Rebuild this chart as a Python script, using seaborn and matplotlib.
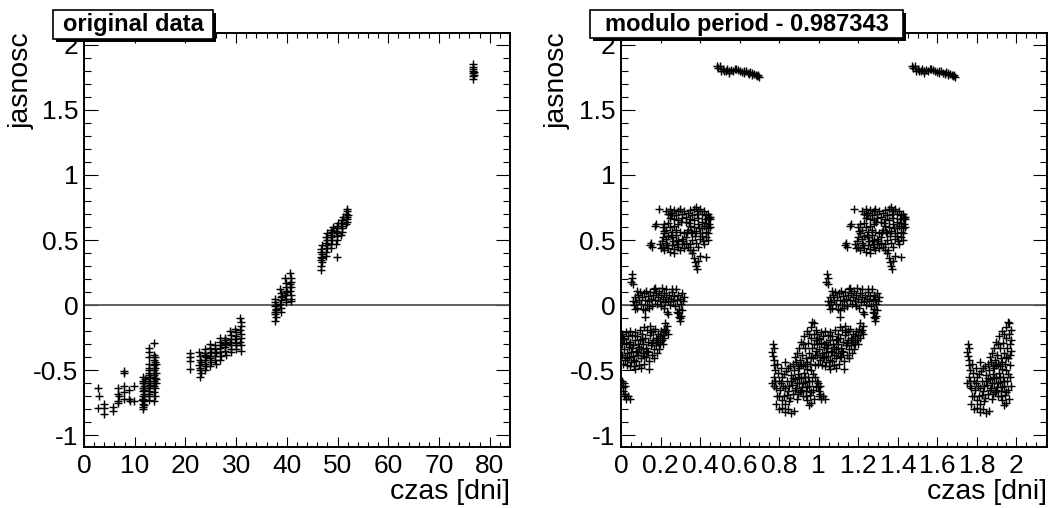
import numpy as np
import pandas as pd
import matplotlib
matplotlib.use('Agg')
import matplotlib.pyplot as plt
from matplotlib.patches import Rectangle
from matplotlib.ticker import MultipleLocator, FormatStrFormatter
import seaborn as sns

PERIOD = 0.987343

# ---------------- left panel: original data (czas [dni], jasnosc) ----------------
orig_early = [(2.8,-0.64),(2.9,-0.70),(2.8,-0.79),(3.9,-0.76),(3.9,-0.79),(4.0,-0.84),(5.8,-0.78),(5.8,-0.81),
              (6.8,-0.64),(6.8,-0.68),(6.9,-0.70),(6.8,-0.74),(6.7,-0.75),(7.8,-0.51),(7.9,-0.52),(7.8,-0.62),
              (7.8,-0.67),(7.9,-0.72),(8.9,-0.65),(8.9,-0.72),(9.0,-0.74),(9.9,-0.62),(9.9,-0.74)]
orig_n12 = [(11.6,-0.55),(11.7,-0.58),(11.6,-0.60),(11.8,-0.62),(11.7,-0.64),(11.6,-0.66),(11.8,-0.68),(11.7,-0.70),
            (11.6,-0.72),(11.8,-0.74),(11.7,-0.76),(11.6,-0.78),(11.7,-0.80),(11.8,-0.77),(11.9,-0.60),(11.9,-0.65),
            (11.9,-0.70),(12.0,-0.57),(11.5,-0.73)]
orig_n13 = [(12.8,-0.33),(12.8,-0.36),(12.8,-0.40),(12.9,-0.45),(12.8,-0.48),(12.9,-0.50),(12.8,-0.52),(12.9,-0.54),
            (12.8,-0.56),(12.9,-0.58),(12.8,-0.60),(12.9,-0.62),(12.8,-0.64),(12.9,-0.66),(12.8,-0.68),(12.9,-0.70),
            (12.8,-0.73),(13.0,-0.55),(13.0,-0.61)]
orig_n14 = [(13.9,-0.29),(13.8,-0.38),(14.0,-0.40),(13.9,-0.42),(14.0,-0.44),(13.8,-0.46),(14.0,-0.48),(13.9,-0.50),
            (14.1,-0.52),(13.8,-0.54),(14.0,-0.56),(13.9,-0.58),(14.1,-0.60),(13.8,-0.62),(14.0,-0.64),(13.9,-0.67),
            (14.0,-0.70),(13.9,-0.74),(14.1,-0.45),(14.1,-0.57)]
orig_n21 = [(20.9,-0.37),(20.9,-0.40),(20.9,-0.43),(20.9,-0.49)]
orig_band = [(22.7,-0.36),(22.9,-0.39),(22.8,-0.42),(23.0,-0.44),(22.7,-0.46),(22.9,-0.48),(22.8,-0.50),(23.0,-0.52),(22.8,-0.55),
             (23.8,-0.34),(23.9,-0.37),(24.0,-0.40),(23.8,-0.42),(23.9,-0.45),(24.0,-0.47),(23.8,-0.50),(23.9,-0.38),
             (24.8,-0.30),(24.9,-0.33),(25.0,-0.36),(24.8,-0.39),(24.9,-0.41),(25.0,-0.44),(24.9,-0.47),
             (25.8,-0.31),(25.9,-0.34),(26.0,-0.37),(25.8,-0.39),(25.9,-0.42),(26.0,-0.45),(25.9,-0.36),
             (26.8,-0.25),(26.9,-0.28),(27.0,-0.31),(26.8,-0.33),(26.9,-0.36),(27.0,-0.39),(26.9,-0.42),
             (27.8,-0.25),(27.9,-0.27),(28.0,-0.30),(27.8,-0.32),(27.9,-0.35),(28.0,-0.38),(27.9,-0.29),
             (28.8,-0.20),(28.9,-0.23),(29.0,-0.26),(28.8,-0.28),(28.9,-0.31),(29.0,-0.34),(28.9,-0.36),
             (29.8,-0.18),(29.9,-0.21),(30.0,-0.24),(29.8,-0.26),(29.9,-0.29),(30.0,-0.31),(29.9,-0.34),
             (30.8,-0.10),(30.9,-0.13),(31.0,-0.16),(30.8,-0.19),(30.9,-0.22),(31.0,-0.25),(30.8,-0.28),(30.9,-0.31),(31.0,-0.35)]
orig_n38 = [(37.6,0.05),(37.7,0.02),(37.6,-0.01),(37.8,-0.03),(37.7,-0.05),(37.6,-0.07),(37.8,-0.09),(37.7,-0.12),(37.9,0.00),(37.9,-0.04)]
orig_n39 = [(38.7,0.12),(38.8,0.09),(38.9,0.06),(38.8,0.04),(38.7,0.01),(38.9,-0.02),(38.8,-0.05),(39.0,0.07)]
orig_n40 = [(39.7,0.21),(39.8,0.17),(39.9,0.14),(39.8,0.11),(39.7,0.08),(39.9,0.05),(39.8,0.02),(40.0,0.10)]
orig_n41 = [(40.7,0.25),(40.8,0.21),(40.9,0.18),(40.8,0.14),(40.7,0.11),(40.9,0.08),(40.8,0.05),(40.9,0.03),(40.7,0.16)]
orig_n47 = [(46.7,0.27),(46.8,0.30),(46.9,0.33),(46.7,0.35),(46.8,0.37),(46.9,0.39),(46.7,0.41),(46.8,0.43),(46.9,0.46),(47.0,0.36)]
orig_n48 = [(47.7,0.38),(47.8,0.41),(47.9,0.44),(47.8,0.46),(47.7,0.48),(47.9,0.50),(47.8,0.52),(48.0,0.55)]
orig_n49 = [(48.7,0.44),(48.8,0.47),(48.9,0.50),(48.8,0.52),(48.7,0.54),(48.9,0.56),(48.8,0.58),(49.0,0.60)]
orig_n50 = [(49.7,0.47),(49.8,0.50),(49.9,0.53),(49.8,0.55),(49.7,0.57),(49.9,0.59),(49.8,0.61),(50.0,0.63),(49.9,0.37)]
orig_n51 = [(50.7,0.54),(50.8,0.56),(50.9,0.59),(50.8,0.61),(50.7,0.63),(50.9,0.65),(51.0,0.68)]
orig_n52 = [(51.7,0.62),(51.8,0.64),(51.9,0.66),(51.8,0.68),(51.7,0.70),(51.9,0.72),(51.8,0.74),(52.0,0.69)]
orig_n77 = [(76.7,1.74),(76.8,1.76),(76.7,1.78),(76.9,1.79),(76.8,1.81),(76.7,1.83),(76.8,1.85),(76.9,1.77),(76.8,1.80)]

# ---------------- right panel: folded data (phase in [0, PERIOD), jasnosc) ----------------
fold_top = [(0.485,1.835),(0.49,1.82),(0.50,1.84),(0.505,1.80),(0.515,1.815),(0.52,1.80),(0.53,1.795),(0.535,1.81),
            (0.545,1.80),(0.555,1.805),(0.565,1.80),(0.575,1.81),(0.58,1.815),(0.59,1.805),(0.60,1.795),(0.61,1.79),
            (0.62,1.785),(0.63,1.795),(0.64,1.78),(0.65,1.775),(0.655,1.79),(0.665,1.77),(0.675,1.775),(0.685,1.765),
            (0.69,1.76),(0.695,1.77),(0.545,1.785),(0.62,1.80),(0.665,1.785),(0.70,1.755)]
fold_high = [(0.23,0.72),(0.24,0.70),(0.25,0.74),(0.26,0.71),(0.27,0.73),(0.28,0.69),(0.29,0.72),(0.30,0.74),(0.31,0.70),
             (0.32,0.72),(0.33,0.68),(0.34,0.71),(0.35,0.73),(0.36,0.69),(0.37,0.74),(0.38,0.75),(0.39,0.72),(0.40,0.74),
             (0.41,0.70),(0.42,0.72),(0.43,0.69),(0.44,0.67),(0.445,0.68),(0.45,0.66),
             (0.25,0.67),(0.27,0.66),(0.29,0.65),(0.31,0.67),(0.33,0.64),(0.35,0.66),(0.37,0.65),(0.39,0.67),(0.41,0.64),(0.43,0.63),
             (0.21,0.60),(0.22,0.62),(0.23,0.58),(0.24,0.63),(0.25,0.60),(0.26,0.56),(0.27,0.61),(0.28,0.58),(0.29,0.62),
             (0.30,0.56),(0.22,0.55),(0.24,0.53),(0.26,0.52),(0.28,0.54),
             (0.32,0.55),(0.33,0.52),(0.34,0.58),(0.35,0.61),(0.36,0.55),(0.37,0.60),(0.38,0.57),(0.39,0.62),(0.40,0.55),
             (0.41,0.59),(0.42,0.61),(0.43,0.56),(0.44,0.59),(0.445,0.62),(0.45,0.60),(0.36,0.50),(0.38,0.48),(0.40,0.51),
             (0.42,0.47),(0.44,0.50),(0.41,0.53),(0.43,0.52),(0.39,0.45),(0.44,0.55),
             (0.195,0.47),(0.20,0.44),(0.205,0.49),(0.21,0.45),(0.22,0.42),(0.23,0.48),(0.24,0.44),(0.25,0.41),(0.26,0.46),
             (0.27,0.43),(0.28,0.49),(0.29,0.45),(0.30,0.42),(0.31,0.47),(0.32,0.44),(0.33,0.48),(0.34,0.45),(0.35,0.47),
             (0.21,0.52),(0.23,0.51),(0.27,0.40),(0.29,0.50),(0.31,0.51),
             (0.19,0.74),(0.17,0.61),(0.175,0.62),(0.145,0.46),(0.155,0.45),(0.15,0.48),(0.44,0.70),(0.45,0.68),
             (0.36,0.40),(0.37,0.36),(0.375,0.33),(0.38,0.30),(0.385,0.28),(0.39,0.34),(0.40,0.38),(0.43,0.37),(0.365,0.42),(0.35,0.42),
             (0.255,0.69),(0.305,0.64),(0.345,0.63),(0.385,0.70),(0.425,0.66),(0.235,0.46),(0.265,0.49),(0.315,0.49),
             (0.335,0.56),(0.375,0.53),(0.415,0.49),(0.215,0.57),(0.255,0.54),(0.285,0.47),(0.355,0.56),(0.395,0.59)]
fold_zero = [(0.055,0.24),(0.058,0.21),(0.052,0.18),(0.062,0.16),
             (0.06,0.03),(0.065,0.0),(0.07,0.06),(0.075,0.02),(0.08,-0.02),(0.085,0.08),(0.09,0.04),(0.095,0.10),(0.10,0.01),
             (0.105,0.06),(0.11,-0.03),(0.115,0.09),(0.12,0.04),(0.125,0.11),(0.13,0.0),(0.135,0.07),(0.14,0.03),(0.145,0.10),
             (0.15,0.05),(0.155,-0.01),(0.16,0.08),(0.165,0.12),(0.17,0.04),(0.175,0.09),(0.18,0.01),(0.185,0.06),(0.19,0.11),
             (0.195,0.03),(0.20,0.08),(0.205,0.13),(0.21,0.05),(0.215,-0.02),(0.22,0.09),(0.225,0.02),(0.23,0.06),(0.235,-0.05),
             (0.24,0.03),(0.245,0.08),(0.25,0.0),(0.255,0.05),(0.26,0.10),(0.265,0.03),(0.27,0.07),(0.275,-0.01),(0.28,0.12),
             (0.285,0.04),(0.29,0.08),(0.295,-0.03),(0.30,0.05),(0.305,0.01),(0.31,0.09),(0.315,0.03),(0.32,0.06),
             (0.29,-0.06),(0.295,-0.09),(0.30,-0.12),(0.305,-0.08),(0.31,-0.04),(0.285,-0.05),(0.30,-0.10),
             (0.08,0.11),(0.12,-0.04),(0.17,0.13),(0.23,0.12),(0.26,0.12),(0.07,-0.03),(0.14,-0.02),(0.20,-0.01),(0.24,-0.07)]
fold_band = [(0.88,-0.40),(0.885,-0.44),(0.89,-0.37),(0.895,-0.47),(0.90,-0.33),(0.905,-0.42),(0.91,-0.28),(0.915,-0.38),
             (0.92,-0.45),(0.925,-0.24),(0.93,-0.33),(0.935,-0.41),(0.94,-0.20),(0.945,-0.29),(0.95,-0.37),(0.955,-0.45),
             (0.96,-0.17),(0.962,-0.25),(0.965,-0.33),(0.97,-0.41),(0.975,-0.14),(0.975,-0.22),(0.978,-0.30),(0.98,-0.38),
             (0.982,-0.46),(0.985,-0.19),(0.985,-0.27),(0.986,-0.35),(0.93,-0.47),(0.91,-0.46),(0.95,-0.22),(0.94,-0.44),
             (0.968,-0.13),(0.96,-0.40),(0.92,-0.30),
             (0.005,-0.22),(0.005,-0.30),(0.005,-0.38),(0.008,-0.45),(0.015,-0.26),(0.015,-0.34),(0.018,-0.42),(0.025,-0.21),
             (0.025,-0.29),(0.028,-0.37),(0.03,-0.46),(0.035,-0.24),(0.038,-0.32),(0.04,-0.40),(0.045,-0.20),(0.048,-0.28),
             (0.05,-0.36),(0.052,-0.44),(0.058,-0.23),(0.06,-0.31),(0.062,-0.39),(0.065,-0.47),(0.07,-0.21),(0.072,-0.27),
             (0.075,-0.35),(0.078,-0.43),(0.082,-0.24),(0.085,-0.30),(0.088,-0.38),(0.09,-0.46),(0.095,-0.19),(0.098,-0.27),
             (0.10,-0.34),(0.102,-0.41),(0.108,-0.22),(0.11,-0.30),(0.112,-0.37),(0.115,-0.45),(0.118,-0.17),(0.12,-0.09),
             (0.122,-0.25),(0.125,-0.33),(0.128,-0.40),(0.132,-0.19),(0.135,-0.28),(0.138,-0.36),(0.14,-0.43),(0.145,-0.16),
             (0.148,-0.23),(0.15,-0.31),(0.155,-0.38),(0.16,-0.20),(0.162,-0.27),(0.165,-0.34),(0.168,-0.41),(0.172,-0.18),
             (0.175,-0.25),(0.178,-0.31),(0.18,-0.37),(0.185,-0.22),(0.188,-0.28),(0.19,-0.34),(0.195,-0.24),(0.198,-0.30),
             (0.202,-0.20),(0.205,-0.27),(0.21,-0.23),(0.212,-0.30),(0.215,-0.18),(0.22,-0.25),(0.224,-0.14),(0.225,-0.21),
             (0.23,-0.19),(0.235,-0.16),(0.238,-0.22),(0.045,-0.47),(0.10,-0.48),(0.14,-0.49),(0.07,-0.49),
             (0.012,-0.25),(0.032,-0.41),(0.055,-0.33),(0.068,-0.42),(0.092,-0.32),(0.105,-0.26),(0.13,-0.35),(0.158,-0.29),
             (0.182,-0.27),(0.042,-0.30),(0.02,-0.40),(0.08,-0.36),(0.152,-0.21),(0.118,-0.39)]
fold_low = [(0.005,-0.58),(0.01,-0.60),(0.008,-0.63),(0.012,-0.66),(0.015,-0.70),(0.02,-0.62),(0.025,-0.72),(0.035,-0.70),
            (0.045,-0.72),(0.018,-0.68),
            (0.768,-0.30),(0.772,-0.33),(0.765,-0.36),(0.77,-0.39),(0.775,-0.42),(0.772,-0.46),(0.778,-0.50),(0.775,-0.55),
            (0.78,-0.58),(0.776,-0.62),(0.782,-0.64),(0.765,-0.60),
            (0.79,-0.45),(0.795,-0.52),(0.80,-0.58),(0.805,-0.65),(0.81,-0.48),(0.815,-0.55),(0.82,-0.62),(0.825,-0.70),
            (0.83,-0.44),(0.835,-0.51),(0.84,-0.58),(0.845,-0.66),(0.85,-0.74),(0.855,-0.47),(0.86,-0.54),(0.865,-0.61),
            (0.87,-0.68),(0.875,-0.50),(0.88,-0.57),(0.885,-0.64),(0.89,-0.72),(0.895,-0.53),(0.90,-0.60),(0.905,-0.67),
            (0.91,-0.56),(0.915,-0.63),(0.92,-0.70),(0.925,-0.52),(0.93,-0.59),(0.935,-0.66),(0.94,-0.73),(0.945,-0.55),
            (0.95,-0.62),(0.955,-0.69),(0.96,-0.50),(0.965,-0.58),(0.97,-0.65),(0.975,-0.72),(0.98,-0.55),(0.985,-0.62),
            (0.80,-0.70),(0.815,-0.73),(0.83,-0.76),(0.845,-0.48),(0.87,-0.45),(0.90,-0.48),(0.94,-0.49),(0.96,-0.75),(0.95,-0.77),
            (0.80,-0.80),(0.815,-0.79),(0.83,-0.82),(0.845,-0.80),(0.86,-0.83),(0.875,-0.81),(0.785,-0.76),(0.79,-0.70),
            (0.81,-0.60),(0.84,-0.69),(0.86,-0.58),(0.88,-0.65),(0.90,-0.55),(0.92,-0.60),(0.94,-0.63),(0.97,-0.53),
            (0.825,-0.53),(0.855,-0.71),(0.895,-0.68),(0.935,-0.70),
            (0.85,-0.62),(0.87,-0.56),(0.91,-0.65),(0.93,-0.55),(0.95,-0.58),(0.96,-0.67),(0.83,-0.64),(0.89,-0.60)]

left_groups = [orig_early, orig_n12, orig_n13, orig_n14, orig_n21, orig_band, orig_n38, orig_n39, orig_n40,
               orig_n41, orig_n47, orig_n48, orig_n49, orig_n50, orig_n51, orig_n52, orig_n77]
right_groups = [fold_top, fold_high, fold_zero, fold_band, fold_low]

left_df = pd.DataFrame([p for g in left_groups for p in g], columns=['czas', 'jasnosc'])
fold = pd.DataFrame([p for g in right_groups for p in g], columns=['faza', 'jasnosc'])
right_df = pd.concat([fold, fold.assign(faza=fold['faza'] + PERIOD)], ignore_index=True)

sns.set_theme(style='white')
plt.rcParams['font.family'] = ['Liberation Sans', 'DejaVu Sans']
plt.rcParams['axes.unicode_minus'] = False
for k in ['text.color', 'axes.labelcolor', 'xtick.color', 'ytick.color', 'axes.edgecolor']:
    plt.rcParams[k] = 'black'

W, H = 1058, 508
fig = plt.figure(figsize=(W / 100, H / 100), dpi=100)
fig.patch.set_facecolor('white')


def axrect(l, t, r, b):
    return [l / W, 1 - b / H, (r - l) / W, (b - t) / H]


axL = fig.add_axes(axrect(84, 33, 510, 447))
axR = fig.add_axes(axrect(621, 33, 1047, 447))

sns.scatterplot(data=left_df, x='czas', y='jasnosc', ax=axL, marker='+', color='black',
                s=30, linewidth=1.05, legend=False, zorder=3)
sns.scatterplot(data=right_df, x='faza', y='jasnosc', ax=axR, marker='+', color='black',
                s=30, linewidth=1.05, legend=False, zorder=3)


def style(ax, xlim, xmaj, xmin):
    ax.set_xlim(*xlim)
    ax.set_ylim(-1.09, 2.09)
    ax.axhline(0, color='#555555', lw=1.3, zorder=1)
    ax.xaxis.set_major_locator(MultipleLocator(xmaj))
    ax.xaxis.set_minor_locator(MultipleLocator(xmin))
    ax.yaxis.set_major_locator(MultipleLocator(0.5))
    ax.yaxis.set_minor_locator(MultipleLocator(0.1))
    ax.xaxis.set_major_formatter(FormatStrFormatter('%g'))
    ax.yaxis.set_major_formatter(FormatStrFormatter('%g'))
    ax.tick_params(which='both', direction='in', top=True, right=True, bottom=True, left=True,
                   colors='black', labelcolor='black', width=0.8, labelsize=19)
    ax.tick_params(axis='x', which='major', length=7.5, pad=5)
    ax.tick_params(axis='x', which='minor', length=3.8)
    ax.tick_params(axis='y', which='major', length=10, pad=4)
    ax.tick_params(axis='y', which='minor', length=5)
    for sp in ax.spines.values():
        sp.set_visible(True)
        sp.set_color('black')
        sp.set_linewidth(1.4)
    ax.set_xlabel('')
    ax.set_ylabel('')
    ax.grid(False)


style(axL, (0, 84), 10, 2)
style(axR, (0, 2.155), 0.2, 0.05)

# axis titles
fig.text(22 / W, 1 - 32 / H, 'jasnosc', rotation=90, ha='center', va='top', fontsize=20.5, color='black')
fig.text(558 / W, 1 - 32 / H, 'jasnosc', rotation=90, ha='center', va='top', fontsize=20.5, color='black')
fig.text(510 / W, 3 / H, 'czas [dni]', ha='right', va='bottom', fontsize=20.5, color='black')
fig.text(1047 / W, 3 / H, 'czas [dni]', ha='right', va='bottom', fontsize=20.5, color='black')


def title_box(l, t, r, b, text):
    sh = 3
    fig.patches.append(Rectangle(((l + sh) / W, 1 - (b + sh) / H), (r - l) / W, (b - t) / H,
                                 transform=fig.transFigure, facecolor='black', edgecolor='none', zorder=10))
    fig.patches.append(Rectangle((l / W, 1 - b / H), (r - l) / W, (b - t) / H,
                                 transform=fig.transFigure, facecolor='white', edgecolor='black', lw=1.2, zorder=11))
    fig.text((l + r) / 2 / W, 1 - (t + b) / 2 / H, text, ha='center', va='center',
             fontsize=17, fontweight='bold', color='black', zorder=12)


title_box(53, 10, 213, 39, 'original data')
title_box(590, 10, 903, 38, 'modulo period - 0.987343')

fig.savefig('out.png', dpi=100, facecolor='white')
